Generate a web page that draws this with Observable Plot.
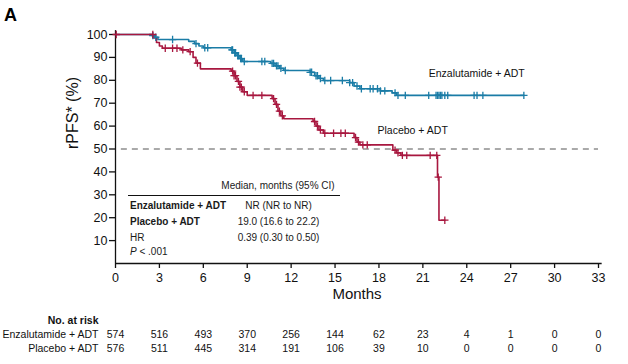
<!DOCTYPE html>
<html><head><meta charset="utf-8">
<script src="https://cdn.jsdelivr.net/npm/d3@7"></script>
<script src="https://cdn.jsdelivr.net/npm/@observablehq/plot@0.6"></script>
<style>
body{margin:0;background:#fff;font-family:"Liberation Sans",Arial,sans-serif;color:#111;}
#wrap{position:relative;width:628px;height:364px;overflow:hidden;}
#wrap svg{display:block;}
.ov{position:absolute;white-space:nowrap;font-size:10px;line-height:1;color:#1a1a1a;}
.c{transform:translate(-50%,-50%);}
.l{transform:translateY(-50%);}
</style></head><body>
<div id="wrap"></div>
<script>
// ---- Kaplan-Meier step data (months, rPFS %) ----
const enzaTimes = [0, 2.5, 2.7, 2.9, 5.0, 5.4, 5.7, 6.0, 7.9, 8.1, 8.3, 8.5, 8.7, 10.6, 10.9, 11.2, 11.5, 13.3, 13.6, 13.9, 14.2, 16.0, 16.3, 16.7, 18.1, 18.9, 19.2];
const enzaSurv  = [100, 99.5, 98.8, 97.8, 97.0, 96.0, 95.0, 94.2, 93.3, 92.0, 90.8, 89.5, 88.2, 87.4, 86.3, 85.2, 84.3, 83.5, 82.0, 80.8, 79.9, 79.0, 77.5, 76.3, 75.4, 74.5, 73.4];
const placTimes = [0, 2.6, 2.8, 3.0, 3.2, 4.5, 5.0, 5.3, 5.5, 5.8, 7.9, 8.1, 8.3, 8.5, 8.7, 9.0, 10.7, 10.9, 11.1, 11.3, 11.5, 13.5, 13.7, 13.9, 14.2, 16.3, 16.5, 16.7, 18.95, 19.2, 19.5, 22.0, 22.1];
const placSurv  = [100, 98.5, 96.5, 95.0, 94.0, 93.3, 92.5, 90.0, 87.5, 85.0, 84.0, 82.0, 79.5, 77.0, 75.0, 73.4, 72.0, 69.5, 66.5, 64.5, 63.2, 62.0, 60.0, 58.3, 56.9, 55.0, 53.0, 51.8, 49.5, 48.3, 47.2, 37.7, 18.9];
// censoring marks (months)
const enzaCensor = [2.55, 2.75, 3.9, 5.5, 6.1, 6.3, 7.95, 8.0, 8.15, 8.2, 8.35, 8.4, 8.55, 8.6, 8.8, 10.0, 10.2, 10.7, 10.8, 11.0, 11.1, 11.3, 11.6, 13.3, 13.4, 13.7, 13.8, 14.0, 14.3, 14.7, 15.5, 16.0, 16.2, 16.5, 16.8, 17.4, 17.6, 17.9, 18.1, 18.4, 19.1, 19.3, 19.8, 21.4, 21.9, 22.0, 22.1, 22.2, 22.3, 22.5, 22.7, 24.5, 24.7, 25.1, 27.9];
const placCensor = [0.05, 2.55, 3.4, 3.9, 4.2, 4.6, 5.1, 5.6, 8.0, 8.1, 8.2, 8.4, 8.5, 8.6, 8.8, 9.4, 10.0, 10.8, 11.0, 11.2, 11.4, 13.6, 13.8, 14.0, 14.3, 14.9, 15.4, 15.7, 16.4, 16.6, 16.9, 17.2, 19.1, 19.3, 19.6, 19.9, 21.5, 21.95, 22.05, 22.5];
// axes
const xTicks = [0, 3, 6, 9, 12, 15, 18, 21, 24, 27, 30, 33];
const yTicks = [10, 20, 30, 40, 50, 60, 70, 80, 90, 100];
// series
const seriesNames = ["Enzalutamide + ADT", "Placebo + ADT"];
const seriesColors = ["#1a7ca6", "#a8173f"];
const labelX = [21.4, 17.9];
const labelY = [83, 58];
// number at risk
const riskTimes = [0, 3, 6, 9, 12, 15, 18, 21, 24, 27, 30, 33];
const enzaRisk = [574, 516, 493, 370, 256, 144, 62, 23, 4, 1, 0, 0];
const placRisk = [576, 511, 445, 314, 191, 106, 39, 10, 0, 0, 0, 0];
// median table
const tableHeader = "Median, months (95% CI)";
const tableRowLabels = ["Enzalutamide + ADT", "Placebo + ADT", "HR"];
const tableRowValues = ["NR (NR to NR)", "19.0 (16.6 to 22.2)", "0.39 (0.30 to 0.50)"];
const pValue = "< .001";

function curve(times, surv, censor) {
  const pts = times.map((t, i) => ({t, s: surv[i]}));
  const last = Math.max(...censor);
  if (last > times[times.length - 1]) pts.push({t: last, s: surv[surv.length - 1]});
  return pts;
}
function survAt(times, surv, t) {
  let s = surv[0];
  for (let i = 0; i < times.length; i++) if (times[i] <= t) s = surv[i];
  return s;
}
const enzaLine = curve(enzaTimes, enzaSurv, enzaCensor);
const placLine = curve(placTimes, placSurv, placCensor);
const enzaMarks = enzaCensor.map(t => ({t, s: survAt(enzaTimes, enzaSurv, t)}));
const placMarks = placCensor.map(t => ({t, s: survAt(placTimes, placSurv, t)}));
const seriesLabels = seriesNames.map((n, i) => ({n, x: labelX[i], y: labelY[i]}));

const font = "'Liberation Sans', Arial, sans-serif";
const main = Plot.plot({
  width: 628, height: 305,
  marginLeft: 115, marginRight: 30, marginTop: 34, marginBottom: 42,
  style: {fontFamily: font, fontSize: "12.5px", color: "#111", background: "#fff"},
  x: {domain: [0, 33]},
  y: {domain: [0, 100]},
  marks: [
    Plot.ruleY([50], {x1: 0.4, x2: 33, stroke: "#555", strokeWidth: 1, strokeDasharray: "6,5"}),
    Plot.axisX({ticks: xTicks, tickSize: 5, tickPadding: 5, label: null, strokeWidth: 1.3}),
    Plot.axisY({ticks: yTicks, tickSize: 6, tickPadding: 2, label: null, strokeWidth: 1.3}),
    Plot.ruleY([0], {x1: 0, x2: 33.25, stroke: "#111", strokeWidth: 1.3}),
    Plot.ruleX([0], {y1: 0, y2: 101.7, stroke: "#111", strokeWidth: 1.3}),
    Plot.line(enzaLine, {x: "t", y: "s", curve: "step-after", stroke: seriesColors[0], strokeWidth: 1.6}),
    Plot.line(placLine, {x: "t", y: "s", curve: "step-after", stroke: seriesColors[1], strokeWidth: 1.6}),
    Plot.dot(enzaMarks, {x: "t", y: "s", symbol: "plus", r: 2.5, stroke: seriesColors[0], strokeWidth: 1.3}),
    Plot.dot(placMarks, {x: "t", y: "s", symbol: "plus", r: 2.5, stroke: seriesColors[1], strokeWidth: 1.3}),
    Plot.text(seriesLabels, {x: "x", y: "y", text: "n", textAnchor: "start", fontSize: 10.5, fill: "#111"}),
    Plot.text(["Months"], {frameAnchor: "bottom", dy: 35, fontSize: 15, fill: "#111"}),
    Plot.text(["rPFS* (%)"], {frameAnchor: "left", dx: -43, rotate: -90, fontSize: 16, fill: "#111"})
  ]
});

const riskRows = ["No. at risk", ...seriesNames];
const riskData = riskTimes.flatMap((t, i) => [
  {t, g: seriesNames[0], n: enzaRisk[i]},
  {t, g: seriesNames[1], n: placRisk[i]}
]);
const risk = Plot.plot({
  width: 628, height: 59,
  marginLeft: 115, marginRight: 30, marginTop: 14, marginBottom: 16,
  style: {fontFamily: font, fontSize: "10.5px", color: "#111", background: "#fff"},
  x: {domain: [0, 33], axis: null},
  y: {type: "point", domain: riskRows, padding: 0, axis: null},
  marks: [
    Plot.text(riskData, {x: "t", y: "g", text: "n", fontSize: 10.5, fill: "#111"}),
    Plot.text(riskRows.slice(0, 1), {y: d => d, text: d => d, frameAnchor: "left", dx: -17, textAnchor: "end", fontWeight: "bold", fontSize: 10.5, fill: "#111"}),
    Plot.text(riskRows.slice(1), {y: d => d, text: d => d, frameAnchor: "left", dx: -17, textAnchor: "end", fontSize: 10.5, fill: "#111"})
  ]
});

const wrap = document.getElementById("wrap");
wrap.appendChild(main);
wrap.appendChild(risk);

function ov(html, cls, left, top, extra) {
  const d = document.createElement("div");
  d.className = "ov " + cls;
  d.style.left = left + "px";
  d.style.top = top + "px";
  if (extra) Object.assign(d.style, extra);
  d.innerHTML = html;
  wrap.appendChild(d);
  return d;
}
ov("A", "l", 4, 15, {fontSize: "18px", fontWeight: "bold", color: "#000"});
ov(tableHeader, "c", 278, 185.5);
ov("", "", 128, 195, {width: "212px", borderTop: "1.3px solid #111", height: "0"});
const rowY = [205.5, 221.5, 237.5];
tableRowLabels.forEach((lab, i) => {
  ov(lab, "l", 130, rowY[i], i < 2 ? {fontWeight: "bold"} : {});
  ov(tableRowValues[i], "c", 278.5, rowY[i]);
});
ov("<i>P</i> " + pValue, "l", 130, 252);
</script>
</body></html>
